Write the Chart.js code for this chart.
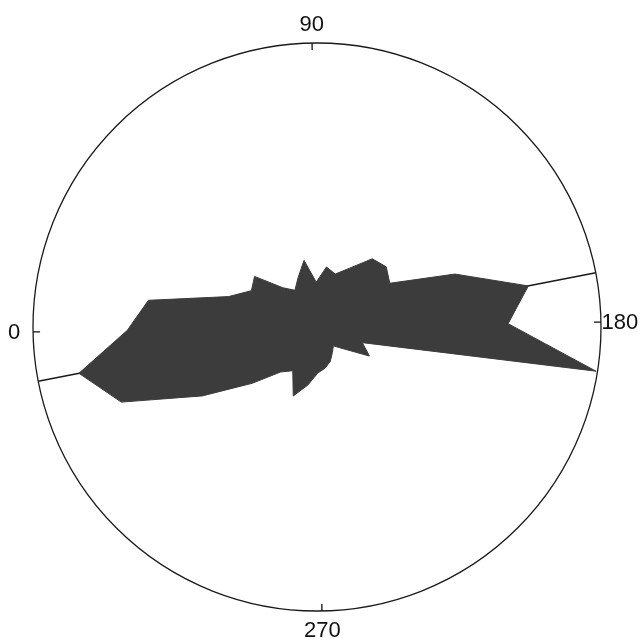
<!DOCTYPE html>
<html>
<head>
<meta charset="utf-8">
<script src="https://cdn.jsdelivr.net/npm/chart.js@4.4.1/dist/chart.umd.min.js"></script>
<style>
  html, body { margin: 0; padding: 0; background: #fff; }
</style>
</head>
<body>
<canvas id="myChart" width="641" height="639"></canvas>
<script>
// direction bins, degrees (10 degree steps, clockwise from the left)
var angles = [0, 10, 20, 30, 40, 50, 60, 70, 80, 90, 100, 110,
              120, 130, 140, 150, 160, 170, 180, 190, 200, 210, 220, 230,
              240, 250, 260, 270, 280, 290, 300, 310, 320, 330, 340, 350];

// relative frequency per bin (outer circle = 100)
var frequency = [66.8, 60.1, 32.9, 26.4, 28.3, 18.3, 15.1, 18.6, 23.9, 15.8, 21.4, 19.7,
                 23.7, 30.9, 32.3, 29.9, 52.0, 75.8, 67.3, 99.5, 16.9, 21.1, 12.3, 8.8,
                 10.5, 13.0, 14.8, 16.2, 20.7, 25.7, 17.6, 20.4, 30.2, 47.1, 73.8, 85.4];

// mean axis drawn right across the circle
var axisAngles = [170, 350];

// labelled directions round the rim
var angleTicks = [0, 90, 180, 270];

var rMax = 100;

var axisLine = angles.map(function(a) {
    return axisAngles.indexOf(a) >= 0 ? rMax : 0;
});

// small inward ticks and the 0/90/180/270 labels
var compassPlugin = {
    id: 'compass',
    afterDraw: function(chart) {
        var scale = chart.scales.r;
        var ctx = chart.ctx;
        var R = scale.drawingArea;
        ctx.save();
        ctx.strokeStyle = '#111';
        ctx.fillStyle = '#111';
        ctx.lineWidth = 1.3;
        ctx.font = '22px "Liberation Sans", Arial, sans-serif';
        ctx.textAlign = 'center';
        ctx.textBaseline = 'middle';
        angleTicks.forEach(function(a) {
            var i = angles.indexOf(a);
            var p1 = scale.getPointPosition(i, R - 7);
            var p2 = scale.getPointPosition(i, R);
            ctx.beginPath();
            ctx.moveTo(p1.x, p1.y);
            ctx.lineTo(p2.x, p2.y);
            ctx.stroke();

            var lp = scale.getPointPosition(i, R + 19);
            ctx.fillText(String(a), lp.x, lp.y + 1);
        });
        ctx.restore();
    }
};

var ctx = document.getElementById('myChart').getContext('2d');

var config = {
    type: 'radar',
    data: {
        labels: angles,
        datasets: [{
            label: 'Frequency',
            data: frequency,
            fill: true,
            backgroundColor: '#3c3c3c',
            borderColor: '#3c3c3c',
            borderWidth: 1,
            pointRadius: 0,
            tension: 0,
            order: 0
        }, {
            label: 'Axis',
            data: axisLine,
            fill: false,
            borderColor: '#1a1a1a',
            borderWidth: 1.6,
            borderJoinStyle: 'bevel',
            pointRadius: 0,
            tension: 0,
            order: 1
        }]
    },
    options: {
        responsive: false,
        animation: false,
        layout: { padding: { left: 33, right: 39, top: 43, bottom: 27 } },
        plugins: {
            legend: { display: false },
            tooltip: { enabled: false }
        },
        scales: {
            r: {
                min: 0,
                max: rMax,
                startAngle: 269,
                ticks: { display: false, stepSize: 50 },
                angleLines: { display: false },
                pointLabels: { display: false },
                grid: {
                    circular: true,
                    lineWidth: 1.3,
                    color: function(c) {
                        return c.tick && c.tick.value === rMax ? '#1a1a1a' : 'rgba(0,0,0,0)';
                    }
                }
            }
        }
    },
    plugins: [compassPlugin]
};

var myChart = new Chart(ctx, config);
</script>
</body>
</html>
